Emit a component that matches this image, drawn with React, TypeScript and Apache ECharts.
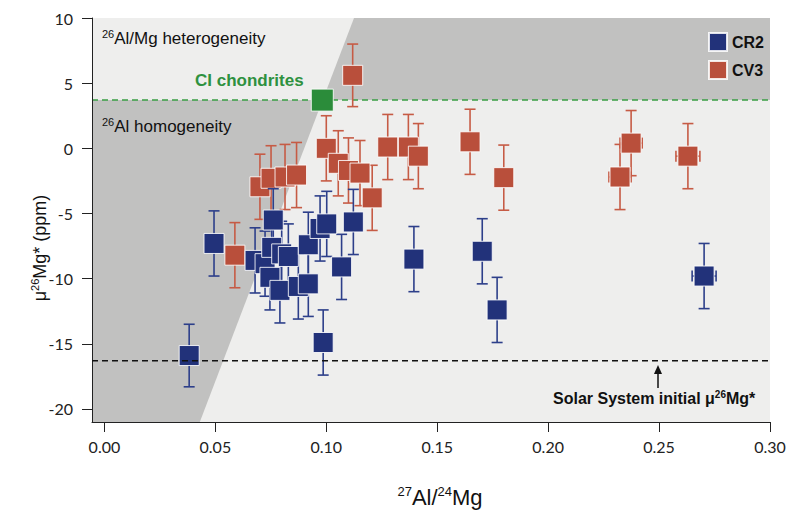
import { useEffect, useRef } from "react";
import * as echarts from "echarts";

// ---- data ----
const cr2X = [0.0382, 0.0494, 0.0679, 0.0724, 0.0761, 0.0754, 0.0799, 0.0829, 0.0746, 0.0791, 0.0874, 0.0919, 0.0919, 0.0972, 0.1002, 0.1069, 0.1122, 0.0986, 0.1395, 0.1703, 0.177, 0.2703];
const cr2Y = [-15.9, -7.3, -8.6, -8.85, -5.5, -7.6, -8.1, -8.3, -9.9, -10.9, -10.6, -10.4, -7.4, -6.15, -5.8, -9.1, -5.65, -14.9, -8.5, -7.9, -12.4, -9.8];
const cr2Err = [2.4, 2.5, 2.5, 2.5, 2.4, 2.5, 2.5, 2.5, 2.5, 2.5, 2.5, 2.5, 2.5, 2.5, 2.5, 2.5, 2.5, 2.5, 2.5, 2.5, 2.5, 2.5];
const cr2XErr = [0, 0, 0, 0, 0, 0, 0, 0, 0, 0, 0, 0, 0, 0, 0, 0, 0, 0, 0, 0, 0, 0.0054];

const cv3X = [0.0588, 0.0701, 0.0751, 0.0814, 0.0866, 0.1, 0.1054, 0.11, 0.1152, 0.1207, 0.1119, 0.1277, 0.137, 0.1415, 0.1648, 0.18, 0.2324, 0.2374, 0.263];
const cv3Y = [-8.2, -2.95, -2.3, -2.2, -2.05, 0.0, -1.15, -1.7, -1.9, -3.8, 5.6, 0.1, 0.1, -0.6, 0.5, -2.25, -2.2, 0.4, -0.6];
const cv3Err = [2.5, 2.5, 2.5, 2.5, 2.5, 2.5, 2.5, 2.5, 2.5, 2.5, 2.4, 2.5, 2.5, 2.5, 2.5, 2.5, 2.5, 2.5, 2.5];
const cv3XErr = [0, 0, 0, 0, 0, 0, 0, 0, 0, 0, 0, 0, 0, 0, 0, 0, 0.005, 0.005, 0.0054];

const ciPoint = [0.0982, 3.7];
const ciLevel = 3.7;
const solarInitial = -16.3;
const modelLine = [
  [0.043, -21],
  [0.1125, 10],
];

const xTicks = [0, 0.05, 0.1, 0.15, 0.2, 0.25, 0.3];
const yTicks = [-20, -15, -10, -5, 0, 5, 10];
const X_MIN = -0.0056;
const X_MAX = 0.3;
const Y_MIN = -21;
const Y_MAX = 10;

const BLUE = "#22327a";
const BLUE_ERR = "#2d3f8a";
const ORANGE = "#b94f3b";
const ORANGE_ERR = "#c65b45";
const GREEN = "#2b8c3a";

function xOnModel(y: number) {
  const [a, b] = modelLine;
  return a[0] + ((y - a[1]) / (b[1] - a[1])) * (b[0] - a[0]);
}

function errRenderer(color: string) {
  return (params: any, api: any) => {
    const x = api.value(0);
    const y = api.value(1);
    const e = api.value(2);
    const xe = api.value(3);
    const top = api.coord([x, y + e]);
    const bot = api.coord([x, y - e]);
    const cap = 5.5;
    const st = { stroke: color, lineWidth: 1.6 };
    const children: any[] = [
      { type: "line", shape: { x1: top[0], y1: top[1], x2: bot[0], y2: bot[1] }, style: st },
      { type: "line", shape: { x1: top[0] - cap, y1: top[1], x2: top[0] + cap, y2: top[1] }, style: st },
      { type: "line", shape: { x1: bot[0] - cap, y1: bot[1], x2: bot[0] + cap, y2: bot[1] }, style: st },
    ];
    if (xe > 0) {
      const l = api.coord([x - xe, y]);
      const r = api.coord([x + xe, y]);
      children.push(
        { type: "line", shape: { x1: l[0], y1: l[1], x2: r[0], y2: r[1] }, style: st },
        { type: "line", shape: { x1: l[0], y1: l[1] - cap, x2: l[0], y2: l[1] + cap }, style: st },
        { type: "line", shape: { x1: r[0], y1: r[1] - cap, x2: r[0], y2: r[1] + cap }, style: st }
      );
    }
    return { type: "group", children };
  };
}

export default function App() {
  const ref = useRef<HTMLDivElement>(null);
  useEffect(() => {
    if (!ref.current) return;
    const chart = echarts.init(ref.current, undefined, { renderer: "svg" });
    const cr2Data = cr2X.map((x, i) => [x, cr2Y[i]]);
    const cv3Data = cv3X.map((x, i) => [x, cv3Y[i]]);
    const cr2ErrData = cr2X.map((x, i) => [x, cr2Y[i], cr2Err[i], cr2XErr[i]]);
    const cv3ErrData = cv3X.map((x, i) => [x, cv3Y[i], cv3Err[i], cv3XErr[i]]);

    const xCI = xOnModel(ciLevel);
    const xBot = xOnModel(Y_MIN);
    const xTop = xOnModel(Y_MAX);

    const toPts = (api: any, pts: number[][]) => pts.map((p) => api.coord(p));

    const option: any = {
      animation: false,
      backgroundColor: "#ffffff",
      grid: { left: 92, right: 30, top: 18, bottom: 96 },
      xAxis: {
        type: "value",
        min: X_MIN,
        max: X_MAX,
        splitLine: { show: false },
        axisLine: { show: true, onZero: false, lineStyle: { color: "#222", width: 1 } },
        axisTick: { show: true, length: 10, customValues: xTicks, lineStyle: { color: "#222" } },
        axisLabel: {
          customValues: xTicks,
          margin: 16,
          fontFamily: "Lato",
          fontSize: 16,
          color: "#222",
          formatter: (v: number) => v.toFixed(2),
        },
      },
      yAxis: {
        type: "value",
        min: Y_MIN,
        max: Y_MAX,
        splitLine: { show: false },
        axisLine: { show: true, onZero: false, lineStyle: { color: "#222", width: 1 } },
        axisTick: { show: true, length: 10, customValues: yTicks, lineStyle: { color: "#222" } },
        axisLabel: {
          customValues: yTicks,
          margin: 19,
          fontFamily: "Lato",
          fontSize: 16,
          color: "#222",
        },
      },
      legend: {
        data: ["CR2", "CV3"],
        orient: "vertical",
        left: 703,
        top: 27,
        icon: "rect",
        itemWidth: 18,
        itemHeight: 18,
        itemGap: 8,
        textStyle: { fontFamily: "Liberation Sans", fontWeight: "bold", fontSize: 16, color: "#111" },
      },
      series: [
        {
          type: "custom",
          name: "bg",
          silent: true,
          z: 0,
          data: [[X_MIN, Y_MIN]],
          renderItem: (params: any, api: any) => ({
            type: "group",
            children: [
              {
                type: "polygon",
                shape: { points: toPts(api, [[X_MIN, Y_MIN], [X_MAX, Y_MIN], [X_MAX, Y_MAX], [X_MIN, Y_MAX]]) },
                style: { fill: "#eeeeed" },
              },
              {
                type: "polygon",
                shape: { points: toPts(api, [[X_MIN, Y_MIN], [xBot, Y_MIN], [xCI, ciLevel], [X_MIN, ciLevel]]) },
                style: { fill: "#c1c1c0" },
              },
              {
                type: "polygon",
                shape: { points: toPts(api, [[xCI, ciLevel], [xTop, Y_MAX], [X_MAX, Y_MAX], [X_MAX, ciLevel]]) },
                style: { fill: "#c1c1c0" },
              },
              (() => {
                const a = api.coord([X_MIN, ciLevel]);
                const b = api.coord([X_MAX, ciLevel]);
                return {
                  type: "line",
                  shape: { x1: a[0], y1: a[1], x2: b[0], y2: b[1] },
                  style: { stroke: "#3a9e44", lineWidth: 1.5, lineDash: [6, 4] },
                };
              })(),
            ],
          }),
        },
        {
          type: "custom",
          name: "CV3 err",
          silent: true,
          z: 2,
          data: cv3ErrData,
          encode: { x: 0, y: 1 },
          renderItem: errRenderer(ORANGE_ERR),
        },
        {
          type: "scatter",
          name: "CV3",
          z: 3,
          symbol: "rect",
          symbolSize: 20,
          data: cv3Data,
          itemStyle: { color: ORANGE, borderColor: "rgba(255,255,255,0.85)", borderWidth: 1, opacity: 1 },
        },
        {
          type: "custom",
          name: "CR2 err",
          silent: true,
          z: 4,
          data: cr2ErrData,
          encode: { x: 0, y: 1 },
          renderItem: errRenderer(BLUE_ERR),
        },
        {
          type: "scatter",
          name: "CR2",
          z: 5,
          symbol: "rect",
          symbolSize: 20,
          data: cr2Data,
          itemStyle: { color: BLUE, borderColor: "rgba(255,255,255,0.85)", borderWidth: 1, opacity: 1 },
        },
        {
          type: "scatter",
          name: "CI chondrites",
          z: 6,
          symbol: "rect",
          symbolSize: 22,
          data: [ciPoint],
          itemStyle: { color: GREEN, borderColor: "rgba(255,255,255,0.85)", borderWidth: 1, opacity: 1 },
        },
        {
          type: "custom",
          name: "solar",
          silent: true,
          z: 7,
          data: [[X_MIN, solarInitial]],
          renderItem: (params: any, api: any) => {
            const a = api.coord([X_MIN, solarInitial]);
            const b = api.coord([X_MAX, solarInitial]);
            return {
              type: "line",
              shape: { x1: a[0], y1: a[1], x2: b[0], y2: b[1] },
              style: { stroke: "#111", lineWidth: 1.5, lineDash: [6, 4] },
            };
          },
        },
      ],
      graphic: [
        {
          type: "text",
          left: 102,
          top: 28,
          z: 50,
          style: {
            text: "{s|26}{n|Al/Mg heterogeneity}",
            rich: {
              s: { fontSize: 11, fontFamily: "Liberation Sans", fill: "#111", verticalAlign: "top", lineHeight: 20 },
              n: { fontSize: 17, fontFamily: "Liberation Sans", fill: "#111", lineHeight: 20 },
            },
          },
        },
        {
          type: "text",
          left: 102,
          top: 116,
          z: 50,
          style: {
            text: "{s|26}{n|Al homogeneity}",
            rich: {
              s: { fontSize: 11, fontFamily: "Liberation Sans", fill: "#111", verticalAlign: "top", lineHeight: 20 },
              n: { fontSize: 17, fontFamily: "Liberation Sans", fill: "#111", lineHeight: 20 },
            },
          },
        },
        {
          type: "text",
          left: 195,
          top: 72,
          z: 50,
          style: {
            text: "CI chondrites",
            fontSize: 17,
            fontWeight: "bold",
            fontFamily: "Liberation Sans",
            fill: "#2e9140",
          },
        },
        {
          type: "text",
          left: 553,
          top: 389,
          z: 50,
          style: {
            text: "{n|Solar System initial μ}{s|26}{n|Mg*}",
            rich: {
              n: { fontSize: 16, fontWeight: "bold", fontFamily: "Liberation Sans Narrow, Liberation Sans", fill: "#111", lineHeight: 18 },
              s: { fontSize: 10, fontWeight: "bold", fontFamily: "Liberation Sans Narrow, Liberation Sans", fill: "#111", verticalAlign: "top", lineHeight: 18 },
            },
          },
        },
        {
          type: "line",
          z: 50,
          shape: { x1: 658, y1: 388, x2: 658, y2: 372 },
          style: { stroke: "#111", lineWidth: 1.5 },
        },
        {
          type: "polygon",
          z: 50,
          shape: { points: [[658, 365], [654, 374], [662, 374]] },
          style: { fill: "#111" },
        },
        {
          type: "text",
          x: 440,
          y: 497,
          z: 50,
          style: {
            text: "{s|27}{n|Al/}{s|24}{n|Mg}",
            align: "center",
            verticalAlign: "middle",
            rich: {
              s: { fontSize: 13, fontFamily: "Liberation Sans", fill: "#111", verticalAlign: "top", lineHeight: 24 },
              n: { fontSize: 22, fontFamily: "Liberation Sans", fill: "#111", lineHeight: 24 },
            },
          },
        },
        {
          type: "text",
          x: 40,
          y: 248,
          z: 50,
          rotation: Math.PI / 2,
          style: {
            text: "{n|μ}{s|26}{n|Mg* (ppm)}",
            align: "center",
            verticalAlign: "middle",
            rich: {
              s: { fontSize: 11, fontFamily: "Liberation Sans", fill: "#111", verticalAlign: "top", lineHeight: 22 },
              n: { fontSize: 18, fontFamily: "Liberation Sans", fill: "#111", lineHeight: 22 },
            },
          },
        },
      ],
    };
    chart.setOption(option);
    return () => chart.dispose();
  }, []);
  return <div ref={ref} style={{ width: 800, height: 518, position: "absolute", left: 0, top: 0 }} />;
}
